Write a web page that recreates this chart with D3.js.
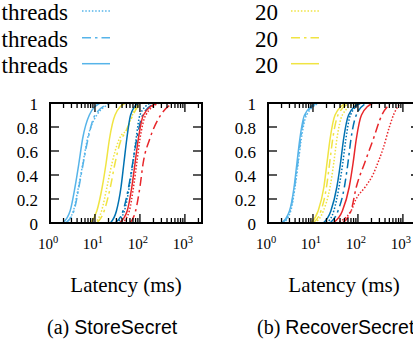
<!DOCTYPE html>
<html lang="en">
<head>
    <meta charset="UTF-8">
    <title>Latency CDF</title>
    <script src="https://d3js.org/d3.v7.min.js"></script>
    <style>
        body {
            margin: 0;
            background: #fff;
        }

        .serif {
            font-family: "Liberation Serif", "Times New Roman", Times, serif;
        }

        .sans {
            font-family: "Liberation Sans", Arial, sans-serif;
        }
    </style>
</head>
<body>

<div id="chart"></div>

<script>
    // latency (ms) vs cumulative fraction
    // (a) StoreSecret
    const storeLightDot  = [[2.2, 0], [3.3, 0.1], [4.3, 0.3], [5.4, 0.5], [6.8, 0.7], [11, 0.9], [24, 1]];
    const storeLightDash = [[2.2, 0], [3.4, 0.1], [4.4, 0.3], [5.5, 0.5], [7, 0.7], [10, 0.9], [22, 1]];
    const storeLightLine = [[1.9, 0], [2.8, 0.1], [3.6, 0.3], [4.4, 0.5], [5.3, 0.7], [7.5, 0.9], [13, 1]];
    const storeYellowDot  = [[10, 0], [14, 0.1], [18.5, 0.3], [24, 0.5], [33, 0.68], [40, 0.74], [50, 0.77], [65, 0.88], [80, 0.96], [100, 1]];
    const storeYellowDash = [[11, 0], [16, 0.1], [22, 0.3], [28, 0.5], [37, 0.68], [48, 0.76], [70, 0.9], [90, 0.97], [118, 1]];
    const storeYellowLine = [[8, 0], [11, 0.1], [14.5, 0.3], [17.7, 0.5], [21, 0.7], [28, 0.9], [47, 1]];
    const storeDarkDot  = [[30, 0], [45, 0.1], [58, 0.3], [70, 0.5], [82, 0.7], [100, 0.9], [170, 1]];
    const storeDarkDash = [[28, 0], [42, 0.1], [56, 0.3], [69, 0.5], [85, 0.7], [115, 0.9], [220, 1]];
    const storeDarkLine = [[22, 0], [30, 0.1], [38, 0.3], [44, 0.5], [51, 0.7], [62, 0.9], [90, 1]];
    const storeRedDot  = [[40, 0], [58, 0.1], [72, 0.3], [85, 0.5], [100, 0.7], [135, 0.9], [270, 1]];
    const storeRedDash = [[60, 0], [80, 0.1], [100, 0.3], [118, 0.5], [165, 0.7], [290, 0.9], [550, 1]];
    const storeRedLine = [[35, 0], [52, 0.1], [66, 0.3], [78, 0.5], [92, 0.7], [120, 0.9], [240, 1]];

    // (b) RecoverSecret
    const recoverLightDot  = [[2.2, 0], [3.2, 0.1], [4, 0.3], [4.7, 0.5], [5.5, 0.7], [7.2, 0.9], [14, 1]];
    const recoverLightDash = [[2.1, 0], [3.1, 0.1], [3.9, 0.3], [4.6, 0.5], [5.3, 0.7], [6.8, 0.9], [13, 1]];
    const recoverLightLine = [[2, 0], [3, 0.1], [3.8, 0.3], [4.4, 0.5], [5.1, 0.7], [6.5, 0.9], [12, 1]];
    const recoverYellowDot  = [[11, 0], [17, 0.1], [24, 0.3], [29, 0.5], [34, 0.7], [45, 0.9], [90, 1]];
    const recoverYellowDash = [[10, 0], [15, 0.1], [20, 0.3], [23.5, 0.5], [27.5, 0.7], [36, 0.9], [65, 1]];
    const recoverYellowLine = [[9, 0], [13, 0.1], [17.5, 0.3], [20.5, 0.5], [24, 0.7], [31, 0.9], [55, 1]];
    const recoverDarkDot  = [[20, 0], [29, 0.1], [38, 0.3], [46, 0.5], [54, 0.7], [68, 0.9], [120, 1]];
    const recoverDarkDash = [[24, 0], [36, 0.1], [50, 0.3], [60, 0.5], [70, 0.7], [92, 0.9], [155, 1]];
    const recoverDarkLine = [[17, 0], [25, 0.1], [34, 0.3], [41, 0.5], [48, 0.7], [62, 0.9], [110, 1]];
    const recoverRedDot  = [[33, 0], [70, 0.1], [91, 0.2], [145, 0.3], [214, 0.4], [290, 0.52], [363, 0.62], [500, 0.8], [650, 0.92], [900, 1]];
    const recoverRedDash = [[45, 0], [70, 0.1], [92, 0.3], [141, 0.5], [220, 0.7], [340, 0.9], [550, 1]];
    const recoverRedLine = [[28, 0], [45, 0.1], [64, 0.3], [78, 0.5], [92, 0.7], [120, 0.9], [215, 1]];

    const yTicks = [0, 0.2, 0.4, 0.6, 0.8, 1];
    const yTickLabels = ["0", "0.2", "0.4", "0.6", "0.8", "1"];
    const xTicks = [1, 10, 100, 1000];
    const xTickExp = ["0", "1", "2", "3"];
    const xDomain = [1, 2400];

    const legendLeft = ["threads", "threads", "threads"];
    const legendRight = ["20", "20", "20"];
    const xTitle = "Latency (ms)";

    // style per colour group / line kind
    const colors = { light: "#56B4E9", yellow: "#F0E442", dark: "#0072B2", red: "#E8262A" };
    const dashes = { dot: "1.5,1.8", dash: "9,4,2.5,4", line: null };

    const panels = [
        {
            left: 50, letter: "(a) ", name: "StoreSecret", capX: 47,
            series: [
                ["light", "dot", storeLightDot], ["light", "dash", storeLightDash], ["light", "line", storeLightLine],
                ["yellow", "dot", storeYellowDot], ["yellow", "dash", storeYellowDash], ["yellow", "line", storeYellowLine],
                ["dark", "dot", storeDarkDot], ["dark", "dash", storeDarkDash], ["dark", "line", storeDarkLine],
                ["red", "dot", storeRedDot], ["red", "dash", storeRedDash], ["red", "line", storeRedLine]
            ]
        },
        {
            left: 268, letter: "(b) ", name: "RecoverSecret", capX: 257,
            series: [
                ["light", "dot", recoverLightDot], ["light", "dash", recoverLightDash], ["light", "line", recoverLightLine],
                ["yellow", "dot", recoverYellowDot], ["yellow", "dash", recoverYellowDash], ["yellow", "line", recoverYellowLine],
                ["dark", "dot", recoverDarkDot], ["dark", "dash", recoverDarkDash], ["dark", "line", recoverDarkLine],
                ["red", "dot", recoverRedDot], ["red", "dash", recoverRedDash], ["red", "line", recoverRedLine]
            ]
        }
    ];

    const W = 413, H = 348;
    const plotW = 152, plotTop = 103, plotBottom = 223;

    const svg = d3.select("#chart").append("svg")
        .attr("width", W)
        .attr("height", H);

    const y = d3.scaleLinear().domain([0, 1]).range([plotBottom, plotTop]);

    panels.forEach(p => {
        const x = d3.scaleLog().domain(xDomain).range([p.left, p.left + plotW]);
        const g = svg.append("g");

        // clip so curves stay in the box
        const clipId = "clip" + p.left;
        svg.append("clipPath").attr("id", clipId)
            .append("rect")
            .attr("x", p.left).attr("y", plotTop - 2)
            .attr("width", plotW).attr("height", plotBottom - plotTop + 4);

        const line = d3.line()
            .x(d => x(d[0]))
            .y(d => y(d[1]))
            .curve(d3.curveMonotoneX);

        g.append("g").attr("clip-path", `url(#${clipId})`)
            .selectAll("path")
            .data(p.series)
            .enter()
            .append("path")
            .attr("d", d => line(d[2]))
            .attr("fill", "none")
            .attr("stroke", d => colors[d[0]])
            .attr("stroke-width", 1.5)
            .attr("stroke-dasharray", d => dashes[d[1]]);

        // minor / major x ticks on bottom and top, pointing inward
        const minor = [];
        for (let dec = 1; dec <= 1000; dec *= 10) {
            for (let k = 2; k <= 9; k++) {
                if (dec * k <= xDomain[1]) minor.push(dec * k);
            }
        }
        const tickG = g.append("g").attr("stroke", "#000").attr("stroke-width", 1.3);
        minor.forEach(v => {
            tickG.append("line").attr("x1", x(v)).attr("x2", x(v)).attr("y1", plotBottom).attr("y2", plotBottom - 5);
            tickG.append("line").attr("x1", x(v)).attr("x2", x(v)).attr("y1", plotTop).attr("y2", plotTop + 5);
        });
        xTicks.forEach(v => {
            tickG.append("line").attr("x1", x(v)).attr("x2", x(v)).attr("y1", plotBottom).attr("y2", plotBottom - 9);
            tickG.append("line").attr("x1", x(v)).attr("x2", x(v)).attr("y1", plotTop).attr("y2", plotTop + 9);
        });
        yTicks.forEach(v => {
            tickG.append("line").attr("x1", p.left).attr("x2", p.left + 9).attr("y1", y(v)).attr("y2", y(v));
            tickG.append("line").attr("x1", p.left + plotW).attr("x2", p.left + plotW - 9).attr("y1", y(v)).attr("y2", y(v));
        });

        // frame
        g.append("rect")
            .attr("x", p.left).attr("y", plotTop)
            .attr("width", plotW).attr("height", plotBottom - plotTop)
            .attr("fill", "none")
            .attr("stroke", "#000")
            .attr("stroke-width", 2);

        // y labels
        g.selectAll(".ylab")
            .data(yTicks)
            .enter()
            .append("text")
            .attr("class", "ylab serif")
            .attr("x", p.left - 12)
            .attr("y", d => y(d) + 7)
            .attr("text-anchor", "end")
            .attr("font-size", 17)
            .text((d, i) => yTickLabels[i]);

        // x labels 10^n
        xTicks.forEach((v, i) => {
            const t = g.append("text")
                .attr("class", "serif")
                .attr("x", x(v) - 2)
                .attr("y", 249)
                .attr("text-anchor", "middle")
                .attr("font-size", 15);
            t.append("tspan").text("10");
            t.append("tspan").attr("dy", -6).attr("font-size", 10.5).text(xTickExp[i]);
        });

        g.append("text")
            .attr("class", "serif")
            .attr("x", p.left + plotW / 2)
            .attr("y", 292)
            .attr("text-anchor", "middle")
            .attr("font-size", 21)
            .text(xTitle);

        const cap = g.append("text")
            .attr("class", "serif")
            .attr("x", p.capX)
            .attr("y", 334)
            .attr("font-size", 20);
        cap.append("tspan").text(p.letter);
        cap.append("tspan").attr("class", "sans").attr("font-size", 19.5).text(p.name);
    });

    // legend (cut off at the top of the figure)
    const legendY = [20, 46.7, 72.7];
    const legendKinds = ["dot", "dash", "line"];

    legendLeft.forEach((txt, i) => {
        svg.append("text")
            .attr("class", "serif")
            .attr("x", 68).attr("y", legendY[i])
            .attr("text-anchor", "end")
            .attr("font-size", 23)
            .text(txt);
        svg.append("line")
            .attr("x1", 82).attr("x2", 110)
            .attr("y1", legendY[i] - 9).attr("y2", legendY[i] - 9)
            .attr("stroke", colors.light)
            .attr("stroke-width", 1.5)
            .attr("stroke-dasharray", dashes[legendKinds[i]]);
    });

    legendRight.forEach((txt, i) => {
        svg.append("text")
            .attr("class", "serif")
            .attr("x", 278).attr("y", legendY[i])
            .attr("text-anchor", "end")
            .attr("font-size", 23)
            .text(txt);
        svg.append("line")
            .attr("x1", 291).attr("x2", 319)
            .attr("y1", legendY[i] - 9).attr("y2", legendY[i] - 9)
            .attr("stroke", colors.yellow)
            .attr("stroke-width", 1.5)
            .attr("stroke-dasharray", dashes[legendKinds[i]]);
    });
</script>
</body>
</html>
